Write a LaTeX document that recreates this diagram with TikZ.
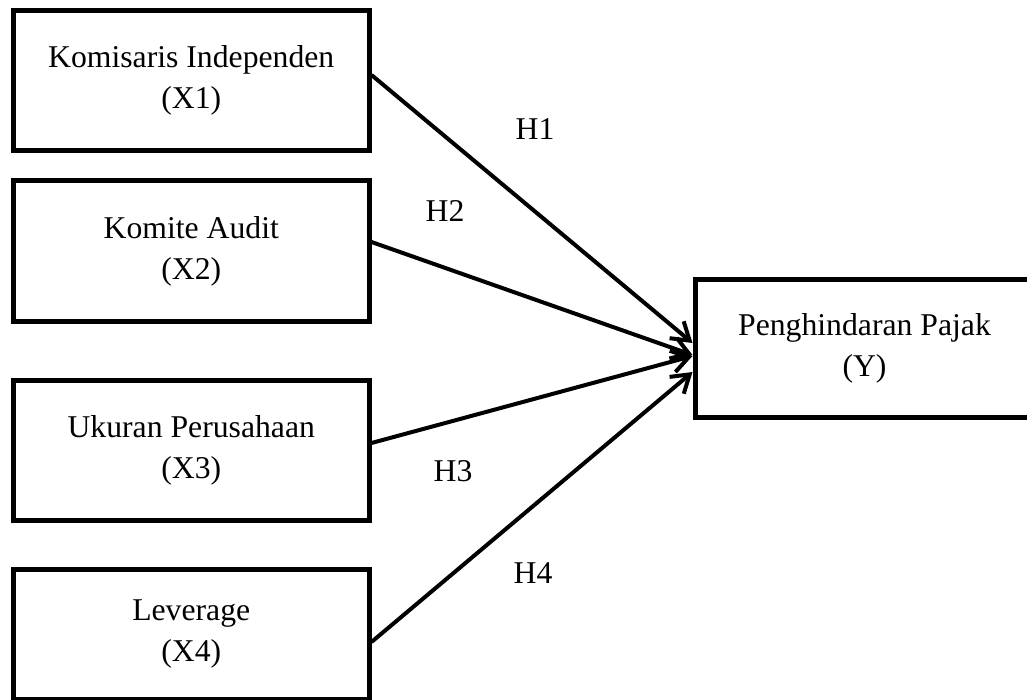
\documentclass[tikz,border=0pt]{standalone}
\usepackage{fontspec}
\setmainfont{Liberation Serif}
\usetikzlibrary{arrows.meta}
\begin{document}
\begin{tikzpicture}[x=1pt,y=-1pt,
  box/.style={draw, line width=5pt, inner sep=0pt, align=center,
    font=\fontsize{31.7pt}{41pt}\selectfont,
    minimum width=355.5pt, minimum height=140pt},
  hlab/.style={anchor=base, inner sep=0pt, font=\fontsize{31.7pt}{41pt}\selectfont},
  conn/.style={line width=4pt, -{Straight Barb[length=17pt,width=22pt]}}]
\useasboundingbox (0,0) rectangle (1027,700);
\clip (0,0) rectangle (1027,700);
\node[box] (x1) at (191.25,80.5) {Komisaris Independen\\(X1)};
\node[box] (x2) at (191.25,251) {Komite Audit\\(X2)};
\node[box] (x3) at (191.25,450) {Ukuran Perusahaan\\(X3)};
\node[box, minimum height=130.5pt] (x4) at (191.25,634.25) {Leverage\\(X4)};
\node[box, minimum width=339pt, minimum height=137pt] (y) at (864.5,348.5) {Penghindaran Pajak\\(Y)};
\draw[conn] ([yshift=5.5pt]x1.east) -- ([yshift=5.5pt]y.west);
\draw[conn] ([yshift=9pt]x2.east) -- ([yshift=-6.5pt]y.west);
\draw[conn] ([yshift=7pt]x3.east) -- ([yshift=-7.5pt]y.west);
\draw[conn] ([yshift=-7.75pt]x4.east) -- ([yshift=-23.5pt]y.west);
\node[hlab] (h1) at (535,140) {H1};
\node[hlab] (h2) at (445,222) {H2};
\node[hlab] (h3) at (453,481) {H3};
\node[hlab] (h4) at (533,583) {H4};
\end{tikzpicture}
\end{document}
